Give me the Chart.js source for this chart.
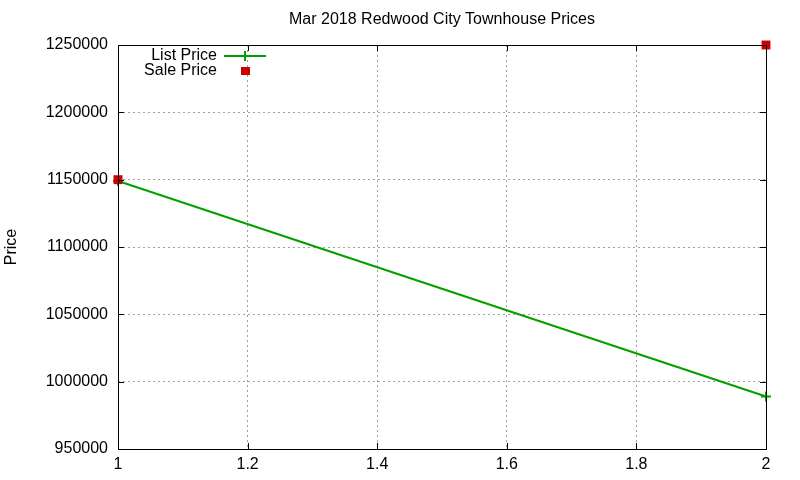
<!DOCTYPE html>
<html lang="en">
  <head>
    <meta charset="UTF-8" />
    <title>Mar 2018 Redwood City Townhouse Prices</title>
    <script src="https://cdn.jsdelivr.net/npm/chart.js@4"></script>
    <style>
      html, body { margin: 0; padding: 0; background: #fff; }
      #wrap { width: 800px; height: 480px; }
    </style>
  </head>
  <body>
    <div id="wrap"><canvas id="priceChart"></canvas></div>

    <script>
      // Data
      const listX = [1, 2];
      const listPrices = [1149000, 989000];
      const saleX = [1, 2];
      const salePrices = [1150000, 1250000];
      const seriesNames = ["List Price", "Sale Price"];
      const chartTitle = "Mar 2018 Redwood City Townhouse Prices";

      const green = "#00a000";
      const red = "#cc0000";
      const font = "Liberation Sans, Arial, sans-serif";

      // gnuplot-like frame, inward tick marks, title and in-plot legend
      const framePlugin = {
        id: "frame",
        afterDatasetsDraw(chart) {
          const { ctx, chartArea: a, scales } = chart;
          ctx.save();
          ctx.strokeStyle = "#000";
          ctx.lineWidth = 1;
          ctx.strokeRect(a.left + 0.5, a.top + 0.5, a.right - a.left, a.bottom - a.top);
          ctx.beginPath();
          scales.y.ticks.forEach((t) => {
            const y = Math.round(scales.y.getPixelForValue(t.value)) + 0.5;
            ctx.moveTo(a.left, y); ctx.lineTo(a.left + 6, y);
            ctx.moveTo(a.right, y); ctx.lineTo(a.right - 6, y);
          });
          scales.x.ticks.forEach((t) => {
            const x = Math.round(scales.x.getPixelForValue(t.value)) + 0.5;
            ctx.moveTo(x, a.bottom); ctx.lineTo(x, a.bottom - 6);
            ctx.moveTo(x, a.top); ctx.lineTo(x, a.top + 6);
          });
          ctx.stroke();

          ctx.font = "16px " + font;
          ctx.fillStyle = "#000";
          ctx.textBaseline = "middle";
          ctx.textAlign = "center";
          ctx.fillText(chartTitle, (a.left + a.right) / 2, 20);

          // legend
          ctx.textAlign = "right";
          ctx.fillText(seriesNames[0], a.left + 99, a.top + 11);
          ctx.fillText(seriesNames[1], a.left + 99, a.top + 26);
          ctx.strokeStyle = green;
          ctx.lineWidth = 2;
          ctx.beginPath();
          ctx.moveTo(a.left + 106, a.top + 11);
          ctx.lineTo(a.left + 148, a.top + 11);
          ctx.moveTo(a.left + 127, a.top + 6);
          ctx.lineTo(a.left + 127, a.top + 16);
          ctx.stroke();
          ctx.fillStyle = red;
          ctx.fillRect(a.left + 123, a.top + 22, 9, 8);
          ctx.restore();
        },
      };

      new Chart(document.getElementById("priceChart"), {
        type: "scatter",
        data: {
          datasets: [
            {
              label: seriesNames[0],
              data: listX.map((x, i) => ({ x: x, y: listPrices[i] })),
              showLine: true,
              borderColor: green,
              backgroundColor: green,
              borderWidth: 2,
              pointStyle: "cross",
              pointRadius: 5,
              pointBorderWidth: 2,
              clip: false,
              order: 1,
            },
            {
              label: seriesNames[1],
              data: saleX.map((x, i) => ({ x: x, y: salePrices[i] })),
              showLine: false,
              borderColor: red,
              backgroundColor: red,
              pointStyle: "rect",
              pointRadius: 6.3,
              pointBorderWidth: 0,
              clip: false,
              order: 0,
            },
          ],
        },
        options: {
          responsive: true,
          maintainAspectRatio: false,
          animation: false,
          layout: { padding: { top: 45, right: 34 } },
          plugins: {
            legend: { display: false },
            tooltip: { enabled: false },
            title: { display: false },
          },
          scales: {
            x: {
              type: "linear",
              min: 1,
              max: 2,
              ticks: {
                stepSize: 0.2,
                color: "#000",
                padding: 6,
                font: { family: font, size: 16 },
                callback: (v) => String(Number(v.toFixed(1))),
              },
              grid: { color: "#a0a0a0", drawTicks: false, lineWidth: 1 },
              border: { display: false, dash: [2, 3] },
              afterFit: (s) => { s.height = 31; },
            },
            y: {
              min: 950000,
              max: 1250000,
              ticks: {
                stepSize: 50000,
                color: "#000",
                padding: 10,
                font: { family: font, size: 16 },
                callback: (v) => String(v),
              },
              grid: { color: "#a0a0a0", drawTicks: false, lineWidth: 1 },
              border: { display: false, dash: [2, 3] },
              title: {
                display: true,
                text: "Price",
                color: "#000",
                font: { family: font, size: 16 },
                padding: { top: 2, bottom: 0 },
              },
              afterFit: (s) => { s.width = 118; },
            },
          },
        },
        plugins: [framePlugin],
      });
    </script>
  </body>
</html>
